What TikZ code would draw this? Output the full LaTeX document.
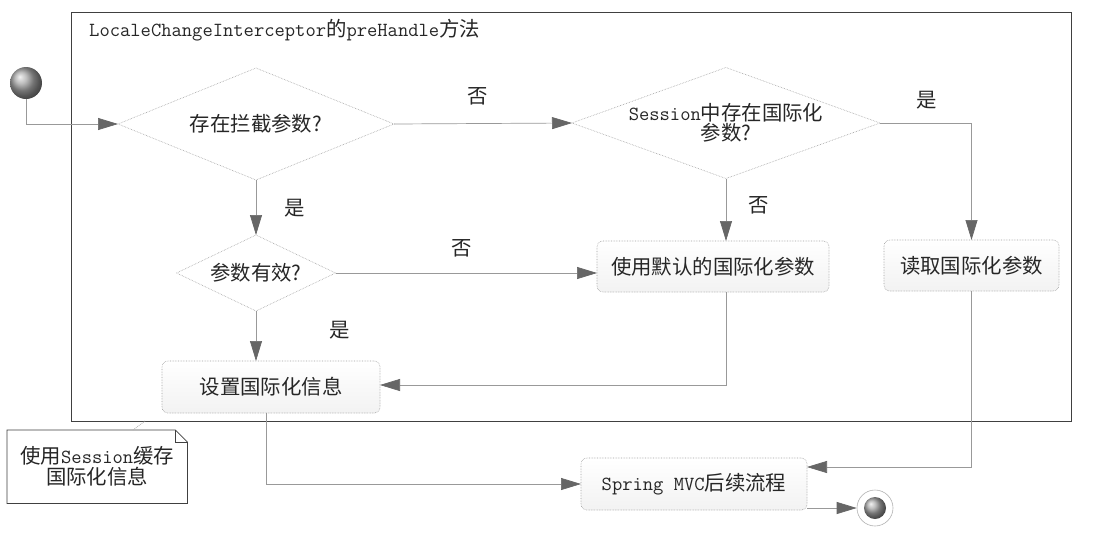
\documentclass[tikz,border=0pt]{standalone}
\usepackage{fontspec}
\newfontfamily\cjk[Scale=1.02]{Noto Sans CJK SC}
\usetikzlibrary{arrows.meta,calc}
\begin{document}
\begin{tikzpicture}[x=1pt,y=-1pt,
  font=\ttfamily\fontsize{20}{23}\selectfont,
  line/.style={draw=gray!80, line width=0.7pt},
  arr/.style={line, -{Triangle[length=20pt,width=12pt,color=gray!80!black]}},
  dia/.style={rectangle, inner sep=0pt, outer sep=0pt, align=center, text=black!85},
  diaborder/.style={draw=gray!75, densely dotted, line width=0.6pt},
  box/.style={rectangle, rounded corners=6pt, draw=gray!75, densely dotted, line width=0.6pt, top color=white, bottom color=gray!10, inner sep=0pt, outer sep=0pt, text=black!85},
  lbl/.style={text=black!85, inner sep=0pt},
  ballnode/.style={circle, shading=ball, ball color=gray!70, inner sep=0pt}
]
\useasboundingbox (0,0) rectangle (1093,539);
\fill[white] (0,0) rectangle (1093,539);

% frame
\node[draw=gray!50!black, line width=0.9pt, minimum width=1000pt, minimum height=409pt, anchor=north west, inner sep=0pt, outer sep=0pt] (frame) at (71,12) {};
\node[lbl, anchor=west] (title) at (89,30) {LocaleChangeInterceptor{\cjk 的}preHandle{\cjk 方法}};

% start
\node[ballnode, minimum size=32pt] (start) at (26,83) {};

% decisions
\node[dia, minimum width=276pt, minimum height=112pt] (d1) at (256,124) {{\cjk 存在拦截参数?}};
\node[dia, minimum width=308pt, minimum height=111pt] (d2) at (726,123) {Session{\cjk 中存在国际化}\\[-3pt]{\cjk 参数?}};
\node[dia, minimum width=159pt, minimum height=76pt] (d3) at (256,273) {{\cjk 参数有效?}};
\foreach \d in {d1,d2,d3}
  \draw[diaborder] (\d.west) -- (\d.north) -- (\d.east) -- (\d.south) -- cycle;

% actions
\node[box, minimum width=218pt, minimum height=52pt] (set) at (271,387) {{\cjk 设置国际化信息}};
\node[box, minimum width=232pt, minimum height=51pt] (def) at (713,266.5) {{\cjk 使用默认的国际化参数}};
\node[box, minimum width=175pt, minimum height=51pt] (read) at (971.5,265.5) {{\cjk 读取国际化参数}};
\node[box, minimum width=226pt, minimum height=52pt] (spring) at (694,484) {Spring MVC{\cjk 后续流程}};

% end
\node[circle, draw=gray!60, fill=white, line width=0.6pt, minimum size=36pt, inner sep=0pt] (endo) at (875,508) {};
\node[ballnode, minimum size=22pt] (endi) at (875,508) {};

% note
\node[lbl, minimum width=180pt, minimum height=73pt, align=center, anchor=north west] (note) at (7,430) {{\cjk 使用}Session{\cjk 缓存}\\[-2pt]{\cjk 国际化信息}};
\draw[gray!50!black, line width=0.8pt] (note.north west) -- ([xshift=-12pt]note.north east) -- ([yshift=-12pt]note.north east) -- (note.south east) -- (note.south west) -- cycle;
\draw[gray!50!black, line width=0.6pt] ([xshift=-12pt]note.north east) -- ([xshift=-12pt,yshift=-12pt]note.north east) -- ([yshift=-12pt]note.north east);
\coordinate (nc) at (145,421);
\draw[gray!60, densely dotted, line width=0.8pt] ([xshift=126pt]note.north west) -- (nc);

% connectors
\draw[arr] (start.south) |- (d1.west);
\draw[arr] (d1.east) -- (d2.west);
\draw[arr] (d2.east) -| (read.north);
\draw[arr] (d2.south) -- (d2.south |- def.north);
\draw[arr] (d1.south) -- (d3.north);
\draw[arr] (d3.east) -- (d3.east -| def.west);
\draw[arr] (d3.south) -- (d3.south |- set.north);
\draw[arr] (d2.south |- def.south) |- ([yshift=2pt]set.east);
\draw[arr] ([xshift=-5pt]set.south) |- (spring.west);
\draw[arr] (read.south) |- ([yshift=17pt]spring.east);
\draw[arr] ([yshift=-24pt]spring.east) -- (endo.west);

% labels
\node[lbl] (l1) at (478,96) {{\cjk 否}};
\node[lbl] (l2) at (927,100) {{\cjk 是}};
\node[lbl] (l3) at (759,205) {{\cjk 否}};
\node[lbl] (l4) at (295,208) {{\cjk 是}};
\node[lbl] (l5) at (462,248) {{\cjk 否}};
\node[lbl] (l6) at (340,330) {{\cjk 是}};
\end{tikzpicture}
\end{document}
